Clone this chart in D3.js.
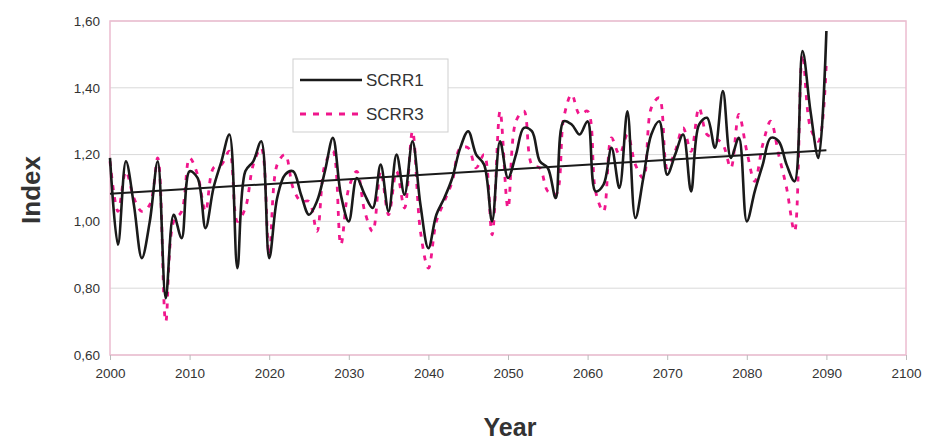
<!DOCTYPE html>
<html>
<head>
<meta charset="utf-8">
<script src="https://cdn.jsdelivr.net/npm/d3@7"></script>
<style>
  body { margin: 0; background: #fff; }
  text { font-family: "Liberation Sans", Arial, sans-serif; }
</style>
</head>
<body>
<svg></svg>
<script>
const width = 926;
const height = 443;

// years 2000..2090
const years = d3.range(2000, 2091);

const scrr1 = [
  1.19, 0.93, 1.18, 1.05, 0.89, 1.00, 1.18, 0.77, 1.02, 0.95,
  1.15, 1.13, 0.98, 1.10, 1.18, 1.26, 0.86, 1.15, 1.18, 1.24,
  0.89, 1.07, 1.14, 1.15, 1.08, 1.02, 1.06, 1.15, 1.25, 1.08,
  1.00, 1.13, 1.08, 1.04, 1.17, 1.03, 1.20, 1.08, 1.24, 1.05,
  0.92, 1.02, 1.07, 1.13, 1.22, 1.27, 1.20, 1.17, 1.00, 1.24,
  1.13, 1.20, 1.28, 1.27, 1.18, 1.16, 1.07, 1.30, 1.29, 1.26,
  1.30, 1.09, 1.11, 1.22, 1.10, 1.33, 1.01, 1.13, 1.26, 1.30,
  1.14, 1.20, 1.26, 1.09, 1.29, 1.31, 1.22, 1.39, 1.19, 1.25,
  1.00, 1.09, 1.17, 1.25, 1.24, 1.17, 1.12, 1.51, 1.33, 1.19,
  1.57
];

const scrr3 = [
  1.18, 1.03, 1.15, 1.07, 1.03, 1.05, 1.19, 0.70, 1.00, 1.03,
  1.19, 1.14, 1.03, 1.16, 1.17, 1.21, 1.00, 1.04, 1.17, 1.22,
  0.90, 1.17, 1.20, 1.10, 1.06, 1.06, 0.97, 1.17, 1.21, 0.93,
  1.10, 1.15, 1.03, 0.97, 1.15, 1.02, 1.15, 1.04, 1.27, 0.97,
  0.86, 1.00, 1.06, 1.12, 1.22, 1.22, 1.16, 1.20, 0.96, 1.33,
  1.04, 1.30, 1.33, 1.17, 1.16, 1.09, 1.08, 1.31, 1.38, 1.32,
  1.33, 1.09, 1.03, 1.25, 1.20, 1.26, 1.17, 1.13, 1.34, 1.37,
  1.16, 1.21, 1.28, 1.21, 1.34, 1.26, 1.25, 1.23, 1.16, 1.32,
  1.21, 1.12, 1.23, 1.30, 1.20, 1.10, 0.97, 1.50, 1.28, 1.24,
  1.48
];

// linear trend endpoints
const trendYears = [2000, 2090];
const trendValues = [1.083, 1.213];

const xTicks = d3.range(2000, 2101, 10);
const yTicks = [0.6, 0.8, 1.0, 1.2, 1.4, 1.6];

const margin = {top: 21, right: 20, bottom: 88, left: 110};

let svg = d3.select("svg").attr("width", width).attr("height", height);

let x = d3.scaleLinear().domain([2000, 2100]).range([margin.left, 906]);
let y = d3.scaleLinear().domain([0.6, 1.6]).range([355, margin.top]);

const fmt = d => d3.format(".2f")(d).replace(".", ",");

// gridlines
svg.append("g")
  .selectAll("line")
  .data(yTicks)
  .join("line")
  .attr("x1", x(2000)).attr("x2", x(2100))
  .attr("y1", d => y(d)).attr("y2", d => y(d))
  .attr("stroke", "#d9d9d9").attr("stroke-width", 1);

// plot border
svg.append("rect")
  .attr("x", x(2000)).attr("y", y(1.6))
  .attr("width", x(2100) - x(2000)).attr("height", y(0.6) - y(1.6))
  .attr("fill", "none").attr("stroke", "#ecbcd0").attr("stroke-width", 1.5);

// axes
let xAxis = d3.axisBottom(x).tickValues(xTicks).tickFormat(d3.format("d")).tickSizeInner(5).tickSizeOuter(0).tickPadding(8);
let gx = svg.append("g").attr("transform", "translate(0," + y(0.6) + ")").call(xAxis);
gx.select(".domain").remove();
gx.selectAll("line").attr("stroke", "#bbb");
gx.selectAll("text").attr("font-size", 13.5).attr("fill", "#333");

let yAxis = d3.axisLeft(y).tickValues(yTicks).tickFormat(fmt).tickSize(0).tickPadding(10);
let gy = svg.append("g").attr("transform", "translate(" + x(2000) + ",0)").call(yAxis);
gy.select(".domain").remove();
gy.selectAll("text").attr("font-size", 13.5).attr("fill", "#333");

// series
let line = d3.line()
  .x((d, i) => x(years[i]))
  .y(d => y(d))
  .curve(d3.curveCatmullRom.alpha(0.5));

svg.append("path")
  .datum(scrr3)
  .attr("d", line)
  .attr("fill", "none")
  .attr("stroke", "#f0168c")
  .attr("stroke-width", 2.8)
  .attr("stroke-dasharray", "5,7");

svg.append("path")
  .datum(scrr1)
  .attr("d", line)
  .attr("fill", "none")
  .attr("stroke", "#1a1a1a")
  .attr("stroke-width", 2.6);

// trend line
svg.append("line")
  .attr("x1", x(trendYears[0])).attr("y1", y(trendValues[0]))
  .attr("x2", x(trendYears[1])).attr("y2", y(trendValues[1]))
  .attr("stroke", "#1a1a1a").attr("stroke-width", 2);

// legend
let legend = svg.append("g");
legend.append("rect")
  .attr("x", 293).attr("y", 59).attr("width", 155).attr("height", 73)
  .attr("fill", "#fff").attr("stroke", "#cfcfcf");
legend.append("line")
  .attr("x1", 300).attr("x2", 362).attr("y1", 80).attr("y2", 80)
  .attr("stroke", "#1a1a1a").attr("stroke-width", 2.6);
legend.append("line")
  .attr("x1", 300).attr("x2", 362).attr("y1", 114).attr("y2", 114)
  .attr("stroke", "#f0168c").attr("stroke-width", 2.8).attr("stroke-dasharray", "6,7");
legend.append("text").attr("x", 366).attr("y", 86).text("SCRR1")
  .attr("font-size", 17).attr("fill", "#333");
legend.append("text").attr("x", 366).attr("y", 120).text("SCRR3")
  .attr("font-size", 17).attr("fill", "#333");

// axis titles
svg.append("text")
  .attr("transform", "translate(40,190) rotate(-90)")
  .attr("text-anchor", "middle")
  .attr("font-size", 26).attr("font-weight", "bold").attr("fill", "#333")
  .text("Index");

svg.append("text")
  .attr("x", 510).attr("y", 436)
  .attr("text-anchor", "middle")
  .attr("font-size", 25).attr("font-weight", "bold").attr("fill", "#333")
  .text("Year");
</script>
</body>
</html>
